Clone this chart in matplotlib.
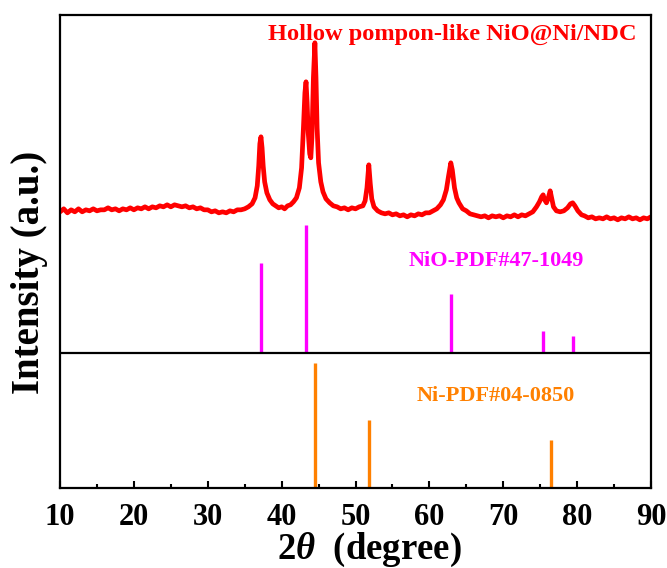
import matplotlib
matplotlib.use("Agg")
import matplotlib.pyplot as plt
from matplotlib.ticker import MultipleLocator

plt.rcParams["font.family"] = ["Liberation Serif", "DejaVu Serif"]
plt.rcParams["font.weight"] = "bold"
plt.rcParams["mathtext.fontset"] = "custom"
plt.rcParams["mathtext.rm"] = "Liberation Serif:bold"
plt.rcParams["mathtext.it"] = "Liberation Serif:italic:bold"

# Measured XRD pattern of the hollow pompon-like NiO@Ni/NDC sample
two_theta = [
    10.0, 10.5, 11.0, 11.5, 12.0, 12.5, 13.0, 13.5, 14.0, 14.5, 15.0, 15.5,
    16.0, 16.5, 17.0, 17.5, 18.0, 18.5, 19.0, 19.5, 20.0, 20.5, 21.0, 21.5,
    22.0, 22.5, 23.0, 23.5, 24.0, 24.5, 25.0, 25.5, 26.0, 26.5, 27.0, 27.5,
    28.0, 28.5, 29.0, 29.5, 30.0, 30.5, 31.0, 31.5, 32.0, 32.5, 33.0, 33.5,
    34.0, 34.5, 35.0, 35.5, 36.0, 36.4, 36.7, 36.9, 37.05, 37.2, 37.35, 37.5,
    37.7, 38.0, 38.4, 38.8, 39.2, 39.6, 40.0, 40.4, 40.8, 41.2, 41.6, 42.0,
    42.4, 42.7, 42.95, 43.15, 43.3, 43.45, 43.6, 43.8, 43.95, 44.1, 44.3, 44.5,
    44.65, 44.8, 45.0, 45.3, 45.6, 46.0, 46.5, 47.0, 47.5, 48.0, 48.5, 49.0,
    49.5, 50.0, 50.5, 51.0, 51.3, 51.55, 51.8, 52.0, 52.2, 52.5, 53.0, 53.5,
    54.0, 54.5, 55.0, 55.5, 56.0, 56.5, 57.0, 57.5, 58.0, 58.5, 59.0, 59.5,
    60.0, 60.5, 61.0, 61.5, 61.9, 62.3, 62.6, 62.9, 63.1, 63.4, 63.7, 64.0,
    64.5, 65.0, 65.5, 66.0, 66.5, 67.0, 67.5, 68.0, 68.5, 69.0, 69.5, 70.0,
    70.5, 71.0, 71.5, 72.0, 72.5, 73.0, 73.5, 74.0, 74.5, 74.9, 75.2, 75.4,
    75.6, 75.85, 76.1, 76.35, 76.55, 76.8, 77.2, 77.7, 78.2, 78.7, 79.1, 79.4,
    79.7, 80.1, 80.6, 81.0, 81.5, 82.0, 82.5, 83.0, 83.5, 84.0, 84.5, 85.0,
    85.5, 86.0, 86.5, 87.0, 87.5, 88.0, 88.5, 89.0, 89.5, 90.0,
]
intensity = [
    16, 19, 15, 18, 16, 19, 16, 18, 17, 19, 17, 18,
    18, 20, 18, 19, 17, 19, 18, 20, 18, 20, 19, 21,
    19, 21, 20, 22, 21, 23, 21, 23, 22, 21, 22, 20,
    21, 19, 20, 18, 18, 16, 17, 15, 16, 15, 17, 16,
    18, 18, 19, 21, 24, 30, 42, 62, 84, 91, 80, 62,
    46, 35, 28, 24, 22, 20, 21, 19, 22, 23, 26, 30,
    40, 60, 100, 135, 146, 125, 95, 74, 70, 90, 150, 185,
    150, 100, 65, 46, 36, 29, 25, 22, 21, 19, 20, 18,
    20, 19, 21, 22, 27, 40, 63, 44, 29, 21, 17, 15,
    14, 15, 13, 14, 12, 13, 11, 13, 12, 14, 13, 15,
    15, 17, 19, 23, 28, 38, 52, 65, 58, 40, 30, 25,
    19, 17, 14, 13, 12, 11, 12, 10, 12, 11, 12, 10,
    12, 11, 13, 11, 13, 12, 14, 16, 21, 26, 31, 33,
    28, 25, 30, 37, 30, 21, 17, 16, 17, 20, 24, 25,
    22, 17, 13, 12, 10, 11, 9, 10, 9, 11, 9, 10,
    8, 10, 9, 11, 9, 10, 8, 10, 9, 11,
]

# Standard reference patterns (relative intensities)
nio_pdf_pos = [37.2, 43.3, 62.9, 75.4, 79.4]
nio_pdf_int = [70, 100, 46, 17, 13]
ni_pdf_pos = [44.5, 51.8, 76.4]
ni_pdf_int = [100, 54, 38]

sample_label = "Hollow pompon-like NiO@Ni/NDC"
nio_label = "NiO-PDF#47-1049"
ni_label = "Ni-PDF#04-0850"

x_ticks = [10, 20, 30, 40, 50, 60, 70, 80, 90]

# vertical stacking of the three panels
sample_offset = 260
nio_base = 135
nio_scale = 1.28
ni_base = 0
ni_scale = 1.25

fig = plt.figure(figsize=(6.67, 5.68), dpi=100)
ax = fig.add_axes([0.09, 0.141, 0.886, 0.833])

ax.plot(two_theta, [v + sample_offset for v in intensity],
        color="#ff0000", lw=3.4, solid_joinstyle="round")

ax.vlines(nio_pdf_pos, nio_base, [nio_base + v * nio_scale for v in nio_pdf_int],
          color="#ff00ff", lw=2.4)
ax.vlines(ni_pdf_pos, ni_base, [ni_base + v * ni_scale for v in ni_pdf_int],
          color="#ff8000", lw=2.4)

ax.axhline(nio_base, color="black", lw=1.6)

ax.text(0.975, 453, sample_label, transform=ax.get_yaxis_transform(),
        ha="right", va="center", color="#ff0000", fontsize=17.6, fontweight="bold")
ax.text(69, 227, nio_label, ha="center", va="center",
        color="#ff00ff", fontsize=16, fontweight="bold")
ax.text(69, 92, ni_label, ha="center", va="center",
        color="#ff8000", fontsize=16, fontweight="bold")

ax.set_xlim(10, 90)
ax.set_ylim(0, 473)
ax.set_xticks(x_ticks)
ax.xaxis.set_minor_locator(MultipleLocator(5))
ax.set_yticks([])
ax.tick_params(axis="x", which="major", direction="in", length=5, width=1.5,
               labelsize=22, pad=11, top=False)
ax.tick_params(axis="x", which="minor", direction="in", length=3, width=1.5,
               top=False)
for lbl in ax.get_xticklabels():
    lbl.set_fontweight("bold")
for sp in ax.spines.values():
    sp.set_linewidth(1.6)

ax.set_xlabel(r"2$\it{\theta}$  (degree)", fontsize=26.5, fontweight="bold",
              va="center")
ax.xaxis.set_label_coords(0.524, -0.13)
ax.set_ylabel("Intensity (a.u.)", fontsize=28, fontweight="bold", va="center")
ax.yaxis.set_label_coords(-0.051, 0.455)

fig.savefig("out.png", dpi=100)
